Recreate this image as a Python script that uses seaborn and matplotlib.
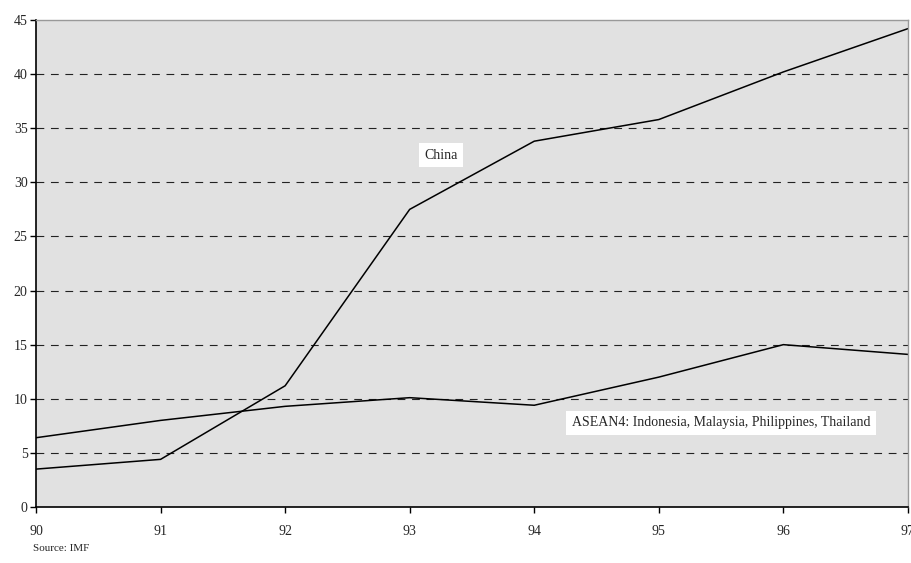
import numpy as np
import pandas as pd
import matplotlib
matplotlib.use("Agg")
import matplotlib.pyplot as plt
import seaborn as sns

years = [90, 91, 92, 93, 94, 95, 96, 97]
china = [3.5, 4.4, 11.2, 27.5, 33.8, 35.8, 40.2, 44.2]
asean4 = [6.4, 8.0, 9.3, 10.1, 9.4, 12.0, 15.0, 14.1]

df = pd.DataFrame({
    "year": years * 2,
    "value": china + asean4,
    "series": ["China"] * len(years) + ["ASEAN4"] * len(years),
})

sns.set_style("white")
plt.rcParams["font.family"] = ["Liberation Serif", "DejaVu Serif"]

fig = plt.figure(figsize=(9.12, 5.63), dpi=100)
ax = fig.add_axes([0.0395, 0.0995, 0.956, 0.865])
ax.set_facecolor("#e1e1e1")

sns.lineplot(data=df, x="year", y="value", hue="series",
             palette={"China": "black", "ASEAN4": "black"},
             linewidth=1.1, legend=False, ax=ax)

ax.set_xlim(90, 97)
ax.set_ylim(0, 45)
ax.set_xticks(years)
ax.set_yticks(range(0, 46, 5))
for y in range(5, 45, 5):
    ax.axhline(y, color="#222222", linewidth=0.8, linestyle=(0, (7, 6)), zorder=1)

ax.set_xlabel("")
ax.set_ylabel("")
ax.tick_params(axis="both", labelsize=10, length=4, width=1, color="black",
               direction="out", bottom=True, left=True)
ax.tick_params(axis="x", pad=9)
ax.tick_params(axis="y", pad=2)
for s in ["left", "bottom"]:
    ax.spines[s].set_color("black")
    ax.spines[s].set_linewidth(1.2)
for s in ["top", "right"]:
    ax.spines[s].set_color("#999999")
    ax.spines[s].set_linewidth(1)

ax.text(93.25, 32.5, "China", fontsize=10, ha="center", va="center",
        bbox=dict(facecolor="white", edgecolor="none", pad=4))
ax.text(95.5, 7.8, "ASEAN4: Indonesia, Malaysia, Philippines, Thailand",
        fontsize=10, ha="center", va="center",
        bbox=dict(facecolor="white", edgecolor="none", pad=4))

fig.text(0.036, 0.018, "Source: IMF", fontsize=8, ha="left", va="bottom")

fig.savefig("out.png", dpi=100)
